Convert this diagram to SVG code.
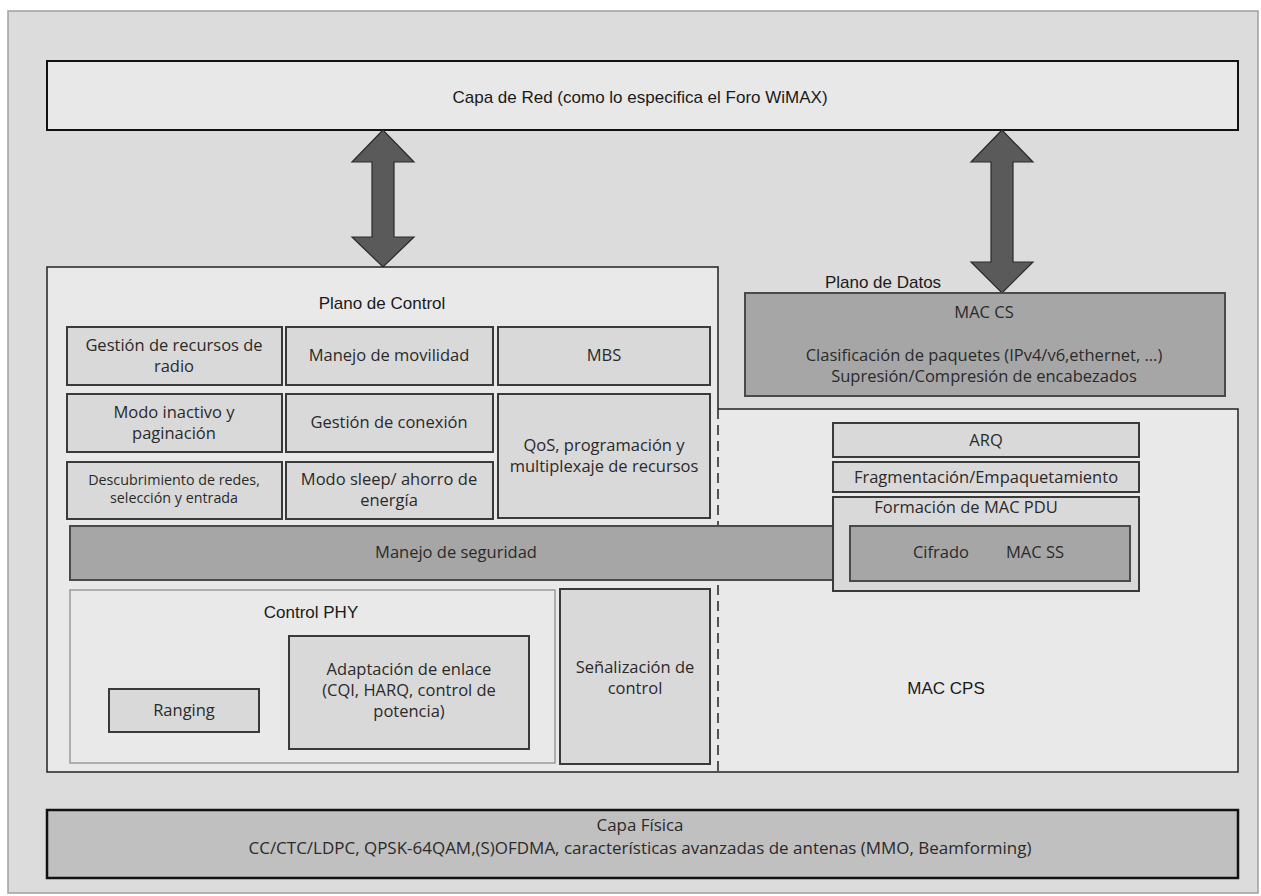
<svg xmlns="http://www.w3.org/2000/svg" width="1261" height="896" viewBox="0 0 1261 896">
<style>
.hd{font-family:"Liberation Sans",Arial,sans-serif;font-size:17px;fill:#1a1a1a;text-anchor:middle}
.bx{font-family:"Open Sans","Noto Sans",sans-serif;font-size:16.5px;fill:#2a2a2a;text-anchor:middle}
.sm{font-family:"Open Sans","Noto Sans",sans-serif;font-size:14.3px;fill:#2a2a2a;text-anchor:middle}
.cell{fill:#d9d9d9;stroke:#3a3a3a;stroke-width:2}
.dark{fill:#a6a6a6;stroke:#4a4a4a;stroke-width:2}
.arrow{fill:#5a5a5a;stroke:#2a2a2a;stroke-width:1.2}
</style>
<rect x="8" y="11" width="1250" height="882" fill="#dcdcdc" stroke="#a0a0a0" stroke-width="1.5"/>
<g id="capa-red">
<rect x="47" y="61" width="1191" height="69" fill="#e8e8e8" stroke="#111" stroke-width="2"/>
<text class="hd" x="640" y="103">Capa de Red (como lo especifica el Foro WiMAX)</text>
</g>
<g id="connectors">
<polygon class="arrow" points="383,130 352,162 372,162 372,237 352,237 383,267 414,237 394,237 394,162 414,162"/>
<polygon class="arrow" points="1002,130 971,162 991,162 991,262 971,262 1002,293 1033,262 1013,262 1013,162 1033,162"/>
</g>
<g id="mac-cps">
<path d="M718,409 H1238 V772 H718" fill="#e9e9e9" stroke="#222" stroke-width="1.5"/>
<text class="hd" x="946" y="694" font-size="16">MAC CPS</text>
</g>
<g id="plano-control">
<path d="M47,267 H718 V409 V772 H47 Z" fill="#e9e9e9" stroke="none"/>
<path d="M718,409 V267 H47 V772 H718" fill="none" stroke="#222" stroke-width="1.5"/>
<line x1="718" y1="409" x2="718" y2="772" stroke="#222" stroke-width="1.5" stroke-dasharray="10,6"/>
<text class="hd" x="382" y="309">Plano de Control</text>
</g>
<g id="gestion-recursos">
<rect class="cell" x="67" y="327" width="215" height="58"/>
<text class="bx" x="174" y="351">Gestión de recursos de</text>
<text class="bx" x="174" y="372">radio</text>
</g>
<g id="manejo-movilidad">
<rect class="cell" x="286" y="327" width="207" height="58"/>
<text class="bx" x="389" y="361">Manejo de movilidad</text>
</g>
<g id="mbs">
<rect class="cell" x="498" y="327" width="212" height="58"/>
<text class="bx" x="604" y="361">MBS</text>
</g>
<g id="modo-inactivo">
<rect class="cell" x="67" y="394" width="215" height="58"/>
<text class="bx" x="174" y="418">Modo inactivo y</text>
<text class="bx" x="174" y="439">paginación</text>
</g>
<g id="gestion-conexion">
<rect class="cell" x="286" y="394" width="207" height="58"/>
<text class="bx" x="389" y="428">Gestión de conexión</text>
</g>
<g id="qos">
<rect class="cell" x="498" y="394" width="212" height="124"/>
<text class="bx" x="604" y="451">QoS, programación y</text>
<text class="bx" x="604" y="472">multiplexaje de recursos</text>
</g>
<g id="descubrimiento">
<rect class="cell" x="67" y="462" width="215" height="57"/>
<text class="sm" x="174" y="485">Descubrimiento de redes,</text>
<text class="sm" x="174" y="503">selección y entrada</text>
</g>
<g id="modo-sleep">
<rect class="cell" x="286" y="462" width="207" height="57"/>
<text class="bx" x="389" y="485">Modo sleep/ ahorro de</text>
<text class="bx" x="389" y="506">energía</text>
</g>
<g id="manejo-seguridad">
<rect class="dark" x="70" y="526" width="772" height="54"/>
<text class="bx" x="456" y="558">Manejo de seguridad</text>
</g>
<g id="control-phy">
<rect x="70" y="590" width="485" height="173" fill="#e9e9e9" stroke="#9a9a9a" stroke-width="1.5"/>
<text class="hd" x="311" y="618">Control PHY</text>
</g>
<g id="ranging">
<rect class="cell" x="109" y="689" width="150" height="43"/>
<text class="bx" x="184" y="716">Ranging</text>
</g>
<g id="adaptacion">
<rect class="cell" x="289" y="636" width="240" height="113"/>
<text class="bx" x="409" y="675">Adaptación de enlace</text>
<text class="bx" x="409" y="696">(CQI, HARQ, control de</text>
<text class="bx" x="409" y="717">potencia)</text>
</g>
<g id="senalizacion">
<rect class="cell" x="560" y="589" width="150" height="175"/>
<text class="bx" x="635" y="673">Señalización de</text>
<text class="bx" x="635" y="694">control</text>
</g>
<g id="plano-datos">
<text class="hd" x="883" y="288">Plano de Datos</text>
</g>
<g id="mac-cs">
<rect class="dark" x="745" y="293" width="480" height="103"/>
<text class="bx" x="984" y="318">MAC CS</text>
<text class="bx" x="984" y="361">Clasificación de paquetes (IPv4/v6,ethernet, ...)</text>
<text class="bx" x="984" y="382">Supresión/Compresión de encabezados</text>
</g>
<g id="arq">
<rect class="cell" x="833" y="423" width="306" height="34"/>
<text class="bx" x="986" y="446">ARQ</text>
</g>
<g id="fragmentacion">
<rect class="cell" x="833" y="462" width="306" height="30"/>
<text class="bx" x="986" y="483">Fragmentación/Empaquetamiento</text>
</g>
<g id="formacion-pdu">
<rect class="cell" x="833" y="497" width="306" height="94"/>
<text class="bx" x="966" y="513">Formación de MAC PDU</text>
</g>
<g id="cifrado">
<rect class="dark" x="850" y="526" width="280" height="55"/>
<text class="bx" x="941" y="558">Cifrado</text>
<text class="bx" x="1035" y="558">MAC SS</text>
</g>
<g id="capa-fisica">
<rect x="47" y="810" width="1191" height="68" fill="#c0c0c0" stroke="#111" stroke-width="2.5"/>
<text class="bx" x="640" y="831" font-size="12.5" textLength="87" lengthAdjust="spacingAndGlyphs">Capa Física</text>
<text class="bx" x="640" y="854" font-size="12.5" textLength="783" lengthAdjust="spacingAndGlyphs">CC/CTC/LDPC, QPSK-64QAM,(S)OFDMA, características avanzadas de antenas (MMO, Beamforming)</text>
</g>
</svg>
